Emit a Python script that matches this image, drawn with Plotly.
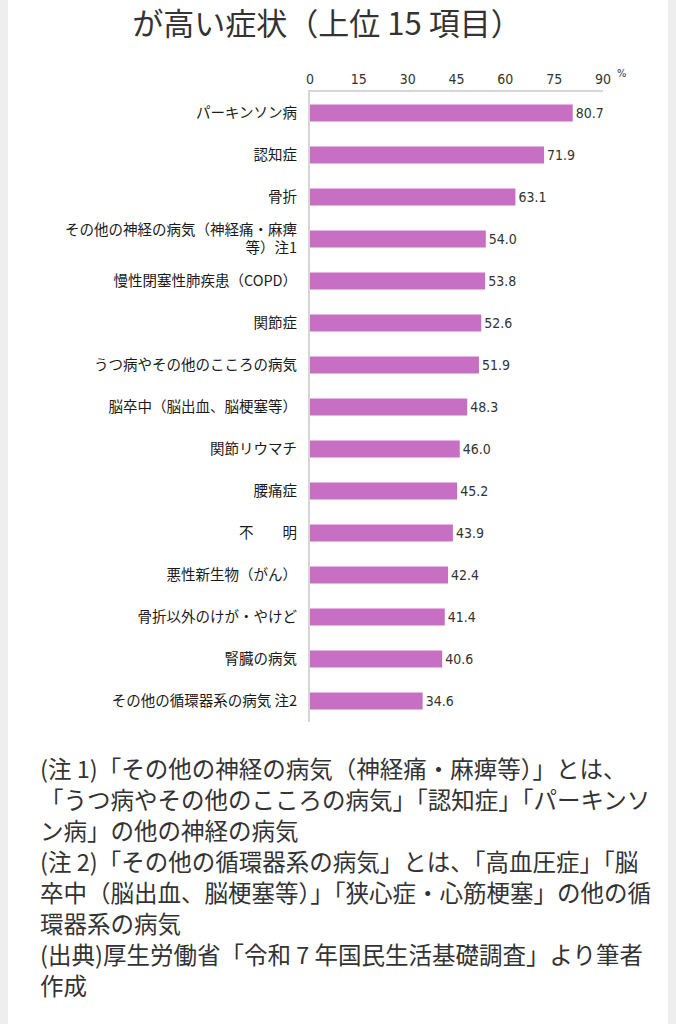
import plotly.graph_objects as go

W, H = 676, 1024
# plot area in pixels (left, right, top, bottom)
PL, PR, PT, PB = 310, 603, 92, 722

TITLE = "が高い症状（上位 15 項目）"

categories = [
    "パーキンソン病",
    "認知症",
    "骨折",
    "その他の神経の病気（神経痛・麻痺<br>等）注1",
    "慢性閉塞性肺疾患（COPD）",
    "関節症",
    "うつ病やその他のこころの病気",
    "脳卒中（脳出血、脳梗塞等）",
    "関節リウマチ",
    "腰痛症",
    "不　　明",
    "悪性新生物（がん）",
    "骨折以外のけが・やけど",
    "腎臓の病気",
    "その他の循環器系の病気 注2",
]
values = [80.7, 71.9, 63.1, 54.0, 53.8, 52.6, 51.9, 48.3, 46.0, 45.2, 43.9, 42.4, 41.4, 40.6, 34.6]

x_ticks = [0, 15, 30, 45, 60, 75, 90]

notes = [
    "(注 1)「その他の神経の病気（神経痛・麻痺等）」とは、",
    "「うつ病やその他のこころの病気」「認知症」「パーキンソ",
    "ン病」の他の神経の病気",
    "(注 2)「その他の循環器系の病気」とは、「高血圧症」「脳",
    "卒中（脳出血、脳梗塞等）」「狭心症・心筋梗塞」の他の循",
    "環器系の病気",
    "(出典)厚生労働省「令和 7 年国民生活基礎調査」より筆者",
    "作成",
]

BAR_COLOR = "#C76FC3"
LINE_COLOR = "#d6d6d6"
TEXT = "#333333"
JP = "Noto Sans CJK JP"
NUM = "Liberation Sans Narrow, DejaVu Sans Condensed, Liberation Sans"


def px_x(x):
    return (x - PL) / (PR - PL)


def px_y(y):
    return (PB - y) / (PB - PT)


fig = go.Figure(go.Bar(
    x=values,
    y=categories,
    orientation="h",
    width=0.4,
    marker=dict(color=BAR_COLOR, line=dict(width=0)),
    text=[f"{v:.1f}" for v in values],
    textposition="outside",
    cliponaxis=False,
    textfont=dict(family=NUM, size=14, color=TEXT),
))

fig.update_layout(
    width=W, height=H,
    margin=dict(l=PL, r=W - PR, t=PT, b=H - PB),
    plot_bgcolor="white", paper_bgcolor="white",
    showlegend=False,
    title=dict(text=TITLE, x=327 / W, xanchor="center", y=1 - 24 / H, yanchor="middle",
               font=dict(family=JP, size=31, color=TEXT)),
)

fig.update_xaxes(
    side="top", range=[0, 90], tickvals=x_ticks, ticks="",
    showline=True, linecolor=LINE_COLOR, linewidth=2,
    showgrid=False, zeroline=False,
    tickfont=dict(family=NUM, size=14, color=TEXT),
)
fig.update_yaxes(
    autorange="reversed", ticks="", ticklabelstandoff=8,
    showline=True, linecolor=LINE_COLOR, linewidth=2,
    showgrid=False, zeroline=False,
    tickfont=dict(family=JP, size=14.5, color="#1a1a1a"),
)

# percent unit
fig.add_annotation(x=px_x(628), y=px_y(65), xref="paper", yref="paper", text="%",
                   showarrow=False, font=dict(family=NUM, size=11, color=TEXT))

# footnotes
for i, line in enumerate(notes):
    fig.add_annotation(
        x=px_x(38), y=px_y(768 + i * 31), xref="paper", yref="paper",
        xanchor="left", yanchor="middle", text=line, showarrow=False,
        font=dict(family=JP, size=23.5, color=TEXT),
    )

# grey side edges of the page
for x0, x1 in [(0, 8), (668, W)]:
    fig.add_shape(type="rect", xref="paper", yref="paper",
                  x0=px_x(x0), x1=px_x(x1), y0=px_y(H), y1=px_y(0),
                  fillcolor="#eeeeee", line=dict(width=0), layer="below")

# drop the default body margin so the figure sits at the window corner
fig.write_html("out.html", config={"displayModeBar": False},
               post_script="document.body.style.margin='0';")
